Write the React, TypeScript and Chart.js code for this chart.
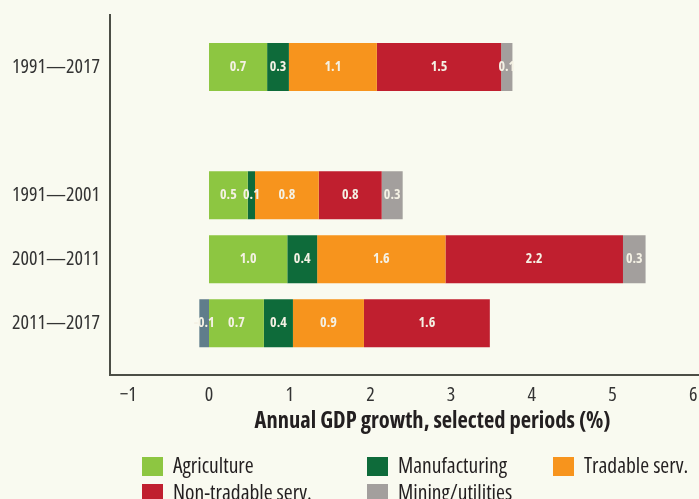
import React, { useEffect, useRef } from "react";
import { Chart, registerables } from "chart.js";

Chart.register(...registerables);

// ---- data ----
const periods = ["1991—2017", "1991—2001", "2001—2011", "2011—2017"];
const periodSlots = [0, 2, 3, 4];
const xTickValues = [-1, 0, 1, 2, 3, 4, 5, 6];

const agriculture = [0.72, 0.48, 0.97, 0.68];
const manufacturing = [0.27, 0.09, 0.37, 0.36];
const tradable = [1.09, 0.79, 1.59, 0.88];
const nonTradable = [1.54, 0.78, 2.2, 1.56];
const mining = [0.14, 0.26, 0.28, -0.12];

const seriesNames = [
  "Agriculture",
  "Manufacturing",
  "Tradable serv.",
  "Non-tradable serv.",
  "Mining/utilities",
];
const seriesColors = ["#8dc641", "#0e6b3a", "#f7941d", "#c01f2f", "#a39f9d"];
const negativeMiningColor = "#607d8b";

const FONT = '"Open Sans", "Roboto", sans-serif';
const BG = "#f9faf0";
const TEXT = "#231f20";
const AXIS = "#4c4e46";

// The source figure is cropped on the right: the plot continues past the window edge.
const CANVAS_W = 755;
const CANVAS_H = 499;

const bgPlugin = {
  id: "bg",
  beforeDraw(chart: any) {
    const { ctx, width, height } = chart;
    ctx.save();
    ctx.fillStyle = BG;
    ctx.fillRect(0, 0, width, height);
    ctx.restore();
  },
};

const barLabelPlugin = {
  id: "barLabels",
  afterDatasetsDraw(chart: any) {
    const { ctx } = chart;
    ctx.save();
    ctx.font = `condensed bold 14px ${FONT}`;
    ctx.fillStyle = "#f4f1e4";
    ctx.textAlign = "center";
    ctx.textBaseline = "middle";
    chart.data.datasets.forEach((ds: any, di: number) => {
      const meta = chart.getDatasetMeta(di);
      meta.data.forEach((el: any, i: number) => {
        const v = ds.data[i];
        if (v === null || v === undefined) return;
        const p = el.getCenterPoint();
        ctx.fillText(v.toFixed(1), p.x, p.y);
      });
    });
    ctx.restore();
  },
};

const legendPlugin = {
  id: "columnLegend",
  afterDraw(chart: any) {
    const { ctx } = chart;
    const colX = [142, 367, 553];
    const rowY = [467, 494];
    ctx.save();
    ctx.font = `condensed 21.5px ${FONT}`;
    ctx.textBaseline = "middle";
    ctx.textAlign = "left";
    chart.data.datasets.forEach((ds: any, i: number) => {
      const col = i % 3;
      const row = Math.floor(i / 3);
      const x = colX[col];
      const y = rowY[row];
      ctx.fillStyle = seriesColors[i];
      ctx.fillRect(x, y - 10, 21, 19);
      ctx.fillStyle = TEXT;
      ctx.fillText(ds.label, x + 31, y);
    });
    ctx.restore();
  },
};

export default function App() {
  const ref = useRef<HTMLCanvasElement | null>(null);

  useEffect(() => {
    if (!ref.current) return;
    const values = [agriculture, manufacturing, tradable, nonTradable, mining];
    const chart = new Chart(ref.current, {
      type: "bar",
      data: {
        labels: periodSlots as any,
        datasets: values.map((d, i) => ({
          label: seriesNames[i],
          data: d,
          backgroundColor:
            i === 4
              ? (c: any) => (c.raw < 0 ? negativeMiningColor : seriesColors[i])
              : seriesColors[i],
          borderWidth: 0,
          categoryPercentage: 1,
          barPercentage: 0.75,
        })),
      },
      options: {
        indexAxis: "y",
        animation: false,
        responsive: false,
        devicePixelRatio: 1,
        layout: { padding: { top: 15, left: 0, right: 0, bottom: 63 } },
        plugins: {
          legend: { display: false },
          tooltip: { enabled: false },
        },
        scales: {
          x: {
            type: "linear",
            stacked: true,
            min: -1.227,
            max: 6.766,
            grid: { display: false, drawTicks: false },
            border: { display: true, color: AXIS, width: 2 },
            afterBuildTicks(scale: any) {
              scale.ticks = xTickValues.map((v) => ({ value: v }));
            },
            afterFit(scale: any) {
              scale.height = 61.5;
              scale.paddingLeft = 0;
              scale.paddingRight = 0;
            },
            ticks: {
              padding: 9,
              color: "#333",
              font: { family: FONT, size: 20, weight: "condensed" },
              callback: (v: any) => (v < 0 ? "\u2212" + Math.abs(v) : String(v)),
            },
            title: {
              display: true,
              text: "Annual GDP growth, selected periods (%)",
              color: TEXT,
              font: { family: FONT, size: 22.5, weight: "condensed bold" },
              padding: { top: 0, bottom: 1 },
            },
          },
          y: {
            type: "linear",
            stacked: true,
            reverse: true,
            offset: false,
            min: -0.8125,
            max: 4.8,
            grid: { display: false, drawTicks: false, offset: false },
            border: { display: true, color: AXIS, width: 2 },
            afterBuildTicks(scale: any) {
              scale.ticks = periodSlots.map((v) => ({ value: v }));
            },
            afterFit(scale: any) {
              scale.width = 110;
              scale.paddingTop = 0;
              scale.paddingBottom = 0;
            },
            ticks: {
              padding: 10,
              color: "#333",
              font: { family: FONT, size: 20, weight: "condensed" },
              callback: (v: any) => {
                const idx = periodSlots.indexOf(v);
                return idx >= 0 ? periods[idx] : "";
              },
            },
          },
        },
      },
      plugins: [bgPlugin, barLabelPlugin, legendPlugin],
    } as any);
    return () => chart.destroy();
  }, []);

  return (
    <div
      style={{
        position: "fixed",
        left: 0,
        top: 0,
        width: 699,
        height: 499,
        overflow: "hidden",
        background: BG,
      }}
    >
      <canvas ref={ref} width={CANVAS_W} height={CANVAS_H} style={{ display: "block" }} />
    </div>
  );
}
